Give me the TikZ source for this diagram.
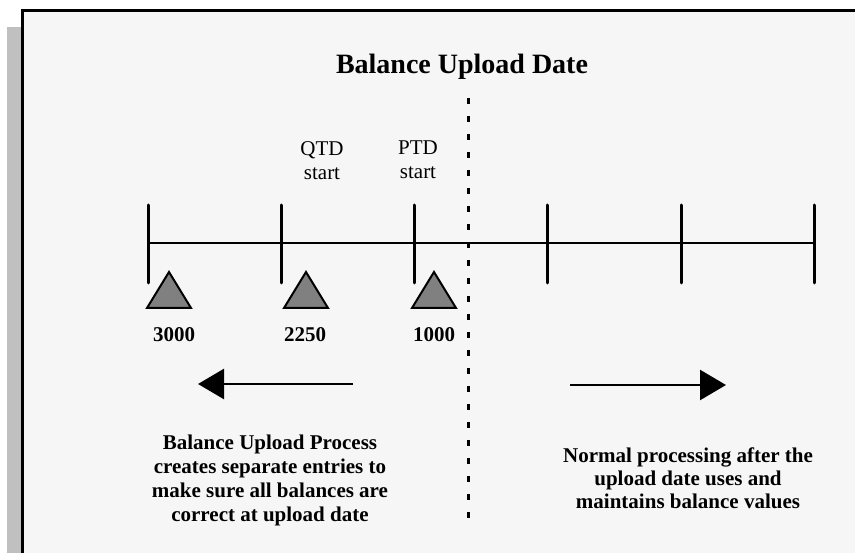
\documentclass[tikz,border=0pt]{standalone}
\usepackage{fontspec}
\setmainfont{Liberation Serif}
\usetikzlibrary{arrows.meta}
\definecolor{panel}{HTML}{F6F6F6}
\definecolor{shadowgray}{HTML}{C0C0C0}
\definecolor{marker}{HTML}{808080}
\tikzset{
  axis/.style={line width=2.5pt},
  tick/.style={line width=3pt, line cap=round},
  flag/.style={draw=black, fill=marker, line width=2pt, line join=miter},
  amount/.style={font=\fontsize{21}{24}\selectfont\bfseries, anchor=base, inner sep=0pt},
  period/.style={font=\fontsize{21}{24}\selectfont, align=center, anchor=north, inner sep=0pt},
  note/.style={align=center, anchor=north, inner sep=0pt},
  flow/.style={line width=2.5pt, -{Triangle[length=26pt,width=30pt]}},
  divider/.style={line width=3pt, dash pattern=on 6pt off 12pt}
}
\begin{document}
\begin{tikzpicture}[x=1pt, y=-1pt]
\useasboundingbox (0,0) rectangle (855,553);
\clip (0,0) rectangle (855,553);
% drop shadow and panel
\fill[shadowgray] (7,27) rectangle (30,560);
\fill[panel] (22,11) rectangle (870,570);
\draw[line width=3pt] (22,570) -- (22,11) -- (870,11);

% title
\node[font=\fontsize{28}{32}\selectfont\bfseries, anchor=base, inner sep=0pt] (title) at (462,74) {Balance Upload Date};

% timeline with period boundaries
\coordinate (t0) at (148,243);
\coordinate (t5) at (814,243);
\draw[axis] (t0) -- (t5);
\foreach \x [count=\i from 0] in {148,281,414,547,681,814} {
  \coordinate (top\i) at (\x,205);
  \coordinate (bot\i) at (\x,283);
  \draw[tick] (top\i) -- (bot\i);
}

% upload date divider
\coordinate (divtop) at (468,98);
\coordinate (divbot) at (468,526);
\draw[divider] (divtop) -- (divbot);

% period start labels
\node[period] (qtd) at (322,141) {QTD\\start};
\node[period] (ptd) at (418,141) {PTD\\start};

% balance markers
\foreach \ax in {169,306,434} {
  \draw[flag] (\ax,272) -- (\ax-22,308) -- (\ax+22,308) -- cycle;
}
\node[amount] (v3000) at (174,342) {3000};
\node[amount] (v2250) at (305,342) {2250};
\node[amount] (v1000) at (434,342) {1000};

% direction arrows
\coordinate (lfrom) at (353,384);
\coordinate (lto) at (198,384);
\coordinate (rfrom) at (570,385);
\coordinate (rto) at (726,385);
\draw[flow] (lfrom) -- (lto);
\draw[flow] (rfrom) -- (rto);

% explanations
\node[note, font=\fontsize{21}{24}\selectfont\bfseries] (before) at (270,434.5)
  {Balance Upload Process\\creates separate entries to\\make sure all balances are\\correct at upload date};
\node[note, font=\fontsize{21}{23}\selectfont\bfseries] (after) at (688,447.5)
  {Normal processing after the\\upload date uses and\\maintains balance values};
\end{tikzpicture}
\end{document}
